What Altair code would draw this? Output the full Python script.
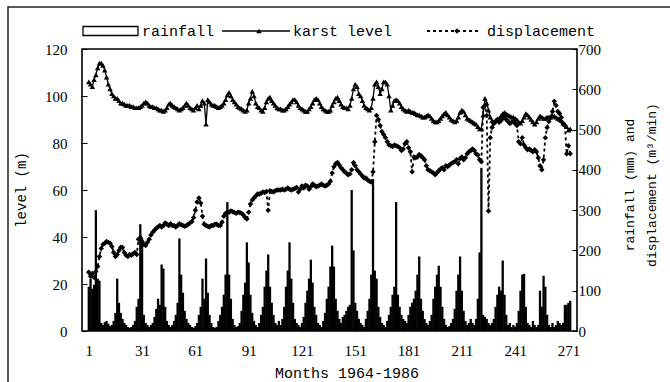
import altair as alt
import pandas as pd

# ---------------- data ----------------
months = list(range(1, 273))

rainfall = [
    110, 130, 105, 115, 300, 130, 125, 20, 15, 22, 25, 18,
    12, 15, 25, 45, 130, 70, 45, 30, 20, 15, 10, 8,
    10, 15, 25, 60, 80, 265, 230, 40, 20, 15, 10, 15,
    20, 35, 55, 80, 65, 165, 155, 60, 25, 15, 10, 15,
    25, 40, 70, 230, 140, 95, 50, 30, 20, 15, 10, 8,
    12, 20, 40, 60, 130, 80, 180, 95, 40, 20, 10, 8,
    10, 25, 40, 60, 90, 140, 320, 140, 80, 30, 15, 10,
    12, 20, 50, 90, 120, 220, 170, 90, 45, 25, 15, 10,
    20, 40, 60, 110, 150, 190, 110, 70, 40, 20, 15, 25,
    15, 30, 60, 110, 150, 220, 130, 70, 30, 20, 15, 10,
    20, 35, 70, 100, 130, 177, 120, 60, 40, 20, 15, 10,
    25, 45, 80, 110, 160, 212, 160, 80, 50, 30, 20, 35,
    40, 50, 60, 65, 350, 200, 70, 50, 30, 20, 15, 10,
    30, 50, 80, 140, 377, 150, 130, 60, 35, 20, 15, 10,
    25, 40, 60, 90, 110, 320, 90, 60, 40, 30, 25, 20,
    40, 60, 70, 80, 100, 140, 185, 80, 50, 30, 20, 15,
    25, 40, 80, 110, 140, 162, 110, 60, 30, 15, 10, 12,
    20, 30, 55, 100, 140, 185, 100, 50, 25, 15, 20, 30,
    20, 15, 30, 80, 195, 405, 40, 35, 30, 20, 15, 20,
    30, 60, 90, 110, 100, 175, 90, 40, 15, 20, 10, 15,
    10, 20, 50, 100, 140, 142, 60, 20, 15, 10, 25, 15,
    10, 15, 100, 60, 137, 110, 40, 15, 10, 20, 10, 15,
    25, 20, 15, 20, 65, 65, 70, 75,
]

karst_level = [
    106, 105, 104, 107, 109, 112, 114, 114, 113, 111, 108, 105,
    103, 101, 100, 99, 99, 98, 97, 97, 96.5, 96, 96, 96,
    95.5, 95.5, 95, 95, 95, 95.5, 96, 97, 97.5, 97, 96, 95.5,
    95.5, 95, 95, 94.5, 94, 94, 93.5, 94, 95, 96.5, 97, 96,
    95.5, 95, 94.5, 94, 94.5, 95, 96, 97, 96, 95, 94.5, 94,
    95, 96, 94.5, 96, 98, 97, 88, 98.5, 97.5, 96.5, 96, 96,
    95.5, 95, 95.5, 96, 97, 98.5, 100.5, 101.5, 100, 98.5, 97.5, 96.5,
    95.5, 95, 94.5, 94, 93.5, 94, 97, 99, 102, 100, 97, 95.5,
    95, 94, 93.5, 95, 97.5, 99, 99.5, 98, 97, 96, 95, 94.5,
    94.5, 94, 94, 94.5, 95.5, 96.5, 97.5, 98.5, 98.5, 97.5, 96, 95,
    94.5, 94, 93.5, 93.5, 94.5, 95.5, 97, 98.5, 99, 98.5, 97, 95.5,
    94.5, 94, 93.5, 93.5, 94, 96, 97.5, 99, 99.5, 98, 96.5, 95.5,
    95, 95, 94.5, 96, 99, 103, 105, 104, 101, 100, 98, 96,
    95, 94.5, 94, 95, 99, 105, 106, 104, 101, 103, 106, 106,
    105, 100, 94, 96, 98, 98.5, 98, 97, 95.5, 94.5, 94, 93.5,
    94, 93.5, 93, 93, 92.5, 92, 92, 91.5, 91, 91, 91.5, 92,
    91.5, 90.5, 89.5, 89, 89, 89.5, 90.5, 91.5, 92.5, 93, 92, 91,
    90, 89.5, 89, 89.5, 91, 93, 94, 93.5, 92, 90.5, 90, 89.5,
    89, 88.5, 88, 87, 86, 86, 92, 99, 97, 94, 91, 89.5,
    89, 89.5, 90, 90.5, 91.5, 92.5, 93, 92.5, 92, 91.5, 91, 91,
    90.5, 90, 89, 88.5, 89.5, 91, 92.5, 92, 91, 90, 89, 88,
    89, 90.5, 91.5, 91, 90.5, 90.5, 91, 91, 91, 91.5, 91.5, 91,
    90.5, 90, 89.5, 88.5, 88, 87, 85.5, 86,
]

displacement = [
    146, 136, 143, 133, 148, 160, 185, 205, 215, 218, 222, 220,
    218, 210, 195, 185, 190, 200, 208, 207, 195, 188, 185, 190,
    188, 192, 195, 190, 228, 232, 222, 215, 212, 220, 228, 238,
    245, 250, 255, 258, 262, 258, 262, 268, 265, 262, 266, 262,
    262, 258, 262, 266, 264, 262, 260, 262, 265, 268, 272, 282,
    300, 320, 330, 318, 285, 265, 262, 260, 258, 262, 262, 265,
    265, 262, 262, 270, 285, 292, 295, 295, 298, 296, 294, 292,
    295, 294, 292, 288, 282, 278, 295, 315, 325, 330, 335, 340,
    340, 342, 345, 344, 346, 300, 348, 346, 345, 348, 350, 350,
    350, 352, 350, 352, 355, 352, 350, 352, 354, 356, 345, 352,
    360, 355, 362, 360, 352, 358, 365, 362, 358, 360, 362, 365,
    362, 360, 362, 365, 372, 392, 408, 415, 418, 412, 405, 400,
    395, 392, 388, 390, 400, 418, 410, 400, 395, 390, 385, 380,
    380, 375, 372, 370, 395, 470, 535, 525, 510, 495, 488, 480,
    470, 462, 460, 458, 462, 460, 458, 455, 448, 452, 465, 470,
    455, 445, 395, 432, 430, 432, 438, 435, 430, 425, 410, 400,
    398, 395, 392, 388, 393, 398, 402, 405, 400, 410, 408, 412,
    415, 418, 420, 425, 415, 428, 432, 425, 430, 440, 445, 448,
    452, 448, 440, 437, 425, 420, 555, 560, 535, 298, 480, 505,
    515, 520, 525, 518, 522, 528, 530, 525, 520, 515, 518, 520,
    515, 510, 470, 465, 480, 462, 455, 450, 452, 448, 445, 450,
    445, 430, 410, 400, 425, 480, 505, 520, 530, 545, 570, 560,
    545, 540, 530, 515, 510, 440, 460, 440,
]

x_ticks = [1, 31, 61, 91, 121, 151, 181, 211, 241, 271]
left_ticks = [0, 20, 40, 60, 80, 100, 120]
right_ticks = [0, 100, 200, 300, 400, 500, 600, 700]

legend_labels = ["rainfall", "karst level", "displacement"]
x_title = "Months 1964-1986"
left_title = "level (m)"
right_title = ["rainfall (mm) and", "displacement (m\u00b3/min)"]

df = pd.DataFrame({
    "month": months,
    "rainfall": rainfall,
    "level": karst_level,
    "displacement": displacement,
})

# ---------------- styling ----------------
W, H = 495, 282
TXT = "Liberation Mono"
NUM = "Liberation Serif"
INK = "#000000"
MK = 30

x_enc = alt.X(
    "month:Q",
    scale=alt.Scale(domain=[0, 273], nice=False, zero=False),
    axis=alt.Axis(values=x_ticks, title=None, grid=False, domain=False,
                  tickSize=alt.ExprRef(expr="-5"), tickColor=INK,
                  labelFont=NUM, labelFontSize=15, labelColor=INK,
                  labelPadding=17, labelFlush=False),
)

right_scale = alt.Scale(domain=[0, 700], nice=False)
left_scale = alt.Scale(domain=[0, 120], nice=False)

right_axis = alt.Axis(values=right_ticks, title=None, grid=False, domain=False,
                      orient="right", tickSize=alt.ExprRef(expr="-5"), tickColor=INK,
                      labelFont=NUM, labelFontSize=15, labelColor=INK,
                      labelPadding=6)
left_axis = alt.Axis(values=left_ticks, title=None, grid=False, domain=False,
                     orient="left", tickSize=alt.ExprRef(expr="-5"), tickColor=INK,
                     labelFont=NUM, labelFontSize=15, labelColor=INK,
                     labelPadding=20)

base = alt.Chart(df)

bars = base.mark_bar(color=INK, size=2.3).encode(
    x=x_enc,
    y=alt.Y("rainfall:Q", scale=right_scale, axis=right_axis),
)
disp_line = base.mark_line(color=INK, strokeWidth=1.8, strokeDash=[3, 3]).encode(
    x=x_enc,
    y=alt.Y("displacement:Q", scale=right_scale, axis=right_axis),
)
disp_pts = base.mark_point(shape="diamond", filled=True, color=INK, size=MK, opacity=1).encode(
    x=x_enc,
    y=alt.Y("displacement:Q", scale=right_scale, axis=right_axis),
)
right_group = alt.layer(bars, disp_line, disp_pts)

lvl_line = base.mark_line(color=INK, strokeWidth=1.3).encode(
    x=x_enc,
    y=alt.Y("level:Q", scale=left_scale, axis=left_axis),
)
lvl_pts = base.mark_point(shape="triangle-up", filled=True, color=INK, size=MK, opacity=1).encode(
    x=x_enc,
    y=alt.Y("level:Q", scale=left_scale, axis=left_axis),
)
left_group = alt.layer(lvl_line, lvl_pts)

one = alt.Data(values=[{"k": 1}])

def txt(label, x, y, size=15, angle=0, align="left"):
    return alt.Chart(one).mark_text(
        font=TXT, fontSize=size, color=INK, align=align, baseline="middle", angle=angle
    ).encode(x=alt.value(x), y=alt.value(y), text=alt.value(label))

# legend (drawn above plot area)
leg_y = -18
leg_rect = alt.Chart(one).mark_rect(fill="white", stroke=INK, strokeWidth=1.3).encode(
    x=alt.value(1), x2=alt.value(56), y=alt.value(leg_y - 4.5), y2=alt.value(leg_y + 4.5))
leg_l1 = alt.Chart(one).mark_rule(color=INK, strokeWidth=1.3).encode(
    x=alt.value(140), x2=alt.value(208), y=alt.value(leg_y))
leg_p1 = alt.Chart(one).mark_point(shape="triangle-up", filled=True, color=INK, size=MK, opacity=1).encode(
    x=alt.value(177), y=alt.value(leg_y))
leg_l2 = alt.Chart(one).mark_rule(color=INK, strokeWidth=1.8, strokeDash=[3, 3]).encode(
    x=alt.value(345), x2=alt.value(399), y=alt.value(leg_y))
leg_p2 = alt.Chart(one).mark_point(shape="diamond", filled=True, color=INK, size=MK, opacity=1).encode(
    x=alt.value(375), y=alt.value(leg_y))
leg_t0 = txt(legend_labels[0], 60, leg_y)
leg_t1 = txt(legend_labels[1], 211, leg_y)
leg_t2 = txt(legend_labels[2], 405, leg_y)

t_x = txt(x_title, 265, 324, size=15, align="center")
t_left = txt(left_title, -60, 141, size=14, angle=270, align="center")
t_r1 = txt(right_title[0], 548, 136, size=13, angle=270, align="center")
t_r2 = txt(right_title[1], 570, 136, size=13, angle=270, align="center")

frame = alt.Chart(one).mark_rect(fill="transparent", stroke="#222", strokeWidth=1.5).encode(
    x=alt.value(-74), x2=alt.value(640), y=alt.value(-42), y2=alt.value(380))

chart = alt.layer(
    right_group, left_group,
    frame, leg_rect, leg_l1, leg_p1, leg_l2, leg_p2, leg_t0, leg_t1, leg_t2,
    t_x, t_left, t_r1, t_r2,
).resolve_scale(y="independent").properties(
    width=W, height=H,
    autosize=alt.AutoSizeParams(type="none"),
    padding={"left": 82, "top": 49, "right": 93, "bottom": 51},
    background="white",
).configure_view(stroke=INK, strokeWidth=1.6)

chart.save("out.html", embed_options={"renderer": "svg", "actions": False})
